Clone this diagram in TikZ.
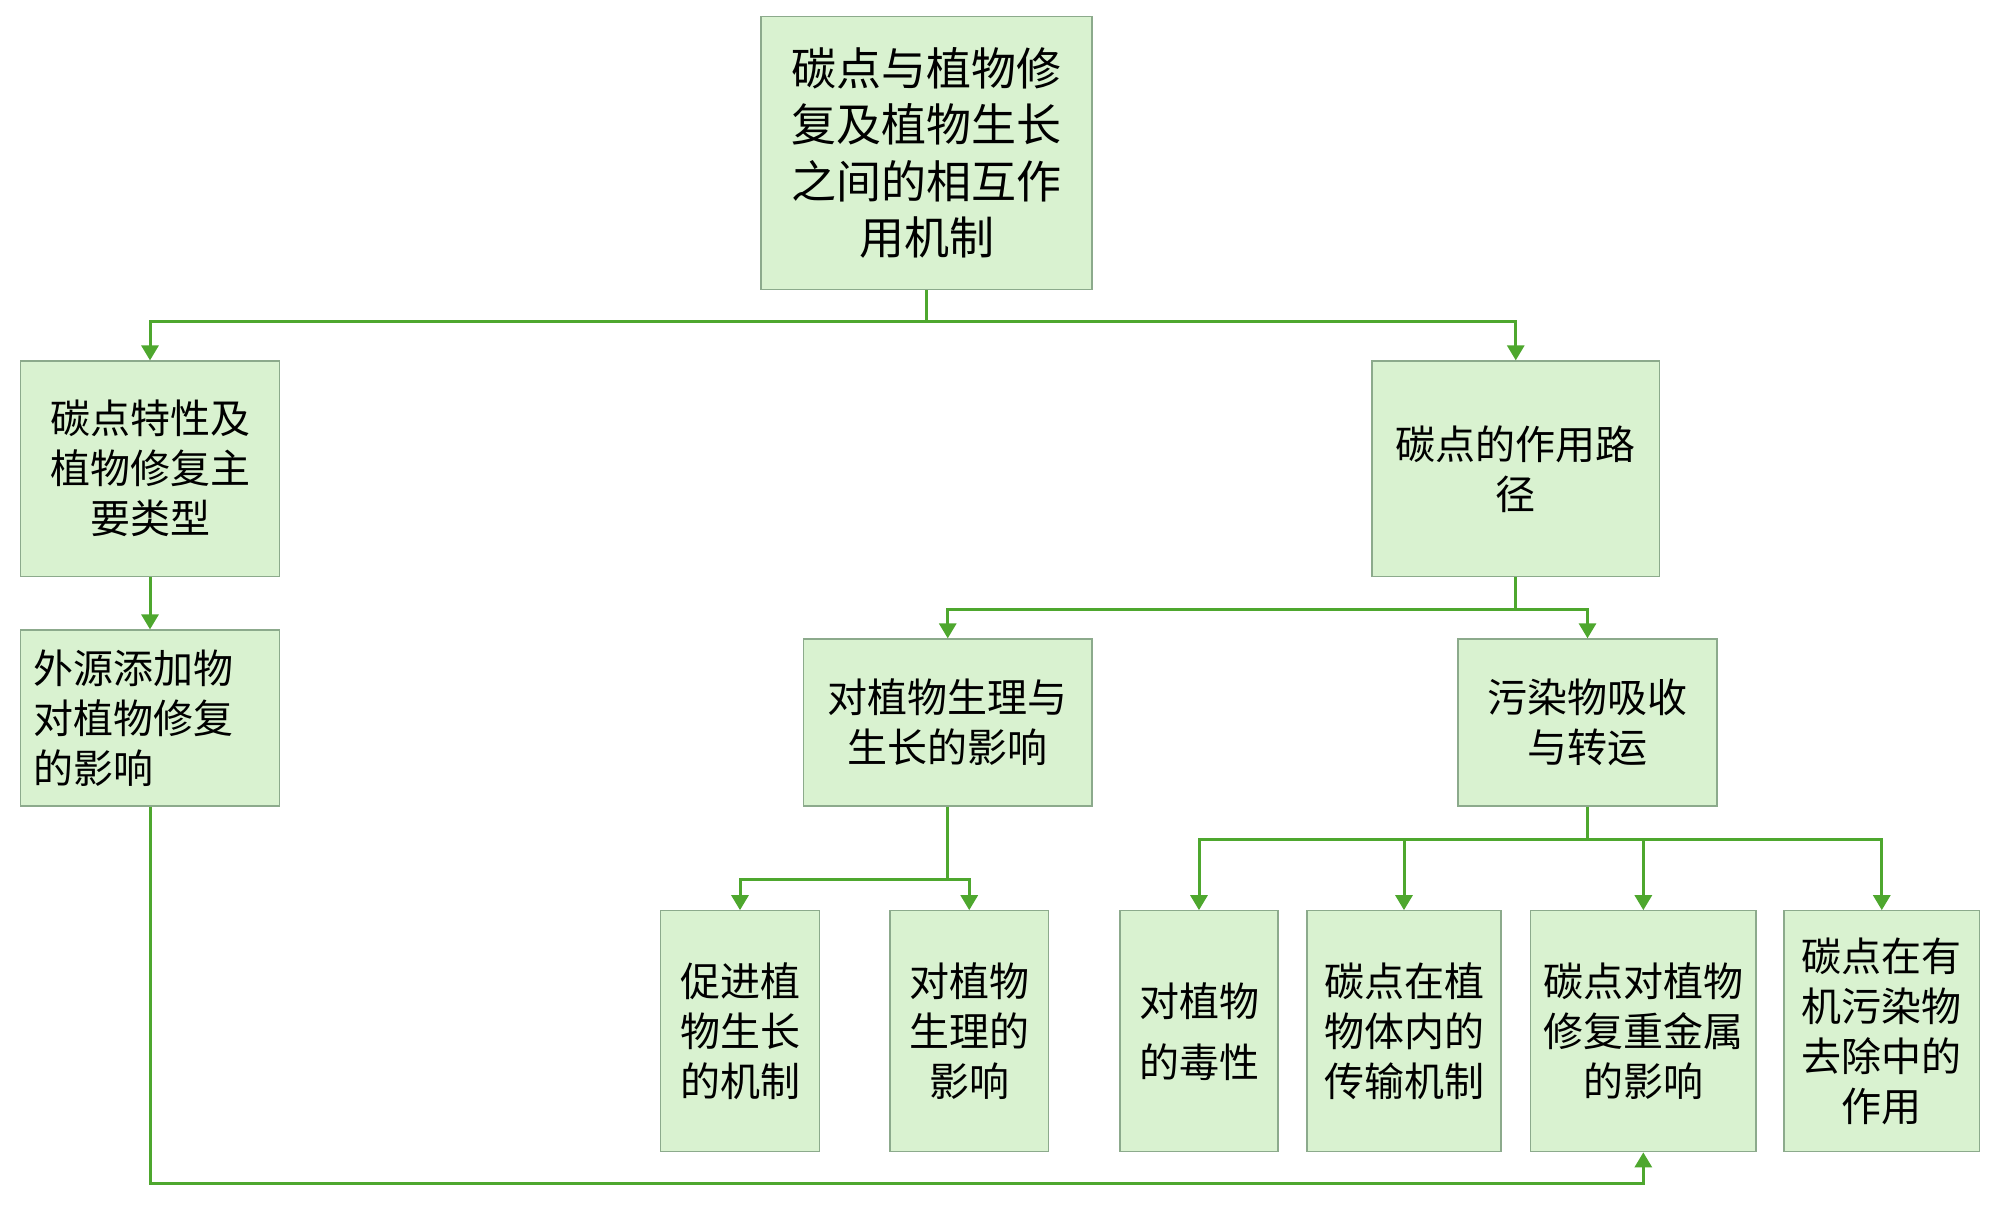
\documentclass[tikz,border=0pt]{standalone}
\usepackage{fontspec}
\setmainfont{Noto Sans CJK SC}
\usetikzlibrary{arrows.meta}
\definecolor{boxfill}{RGB}{217,242,208}
\definecolor{boxline}{RGB}{140,170,140}
\definecolor{linkgreen}{RGB}{78,167,46}
\tikzset{
  box/.style={draw=boxline, fill=boxfill, line width=0.6pt, inner sep=0pt, align=center,
    font=\fontsize{20pt}{25pt}\selectfont, text=black},
  arr/.style={draw=linkgreen, line width=1.5pt, -{Triangle[length=7.5pt,width=8.5pt]}},
  lnk/.style={draw=linkgreen, line width=1.5pt},
}
\begin{document}
\begin{tikzpicture}[x=0.5pt,y=-0.5pt]
\useasboundingbox (0,0) rectangle (2000,1205);
% boxes
\node[box, minimum width=165.5pt, minimum height=136.5pt, font=\fontsize{22.5pt}{28.25pt}\selectfont] (top) at (926.5,153) {碳点与植物修\\复及植物生长\\之间的相互作\\用机制};
\node[box, minimum width=129.5pt, minimum height=107.75pt] (A) at (150,468.75) {碳点特性及\\植物修复主\\要类型};
\node[box, minimum width=143.75pt, minimum height=107.75pt] (B) at (1515.75,468.75) {碳点的作用路\\径};
\node[box, minimum width=129.5pt, minimum height=88pt, align=left, text width=116.5pt, inner xsep=6.5pt] (A2) at (150,718) {外源添加物\\对植物修复\\的影响};
\node[box, minimum width=144.25pt, minimum height=83.5pt] (C) at (947.75,722.5) {对植物生理与\\生长的影响};
\node[box, minimum width=129.5pt, minimum height=83.5pt] (D) at (1587.5,722.5) {污染物吸收\\与转运};
\node[box, minimum width=79.15pt, minimum height=120.5pt] (E1) at (740,1031.25) {促进植\\物生长\\的机制};
\node[box, minimum width=79.25pt, minimum height=120.5pt] (E2) at (969.25,1031.25) {对植物\\生理的\\影响};
\node[box, minimum width=79pt, minimum height=120.5pt, font=\fontsize{20pt}{30.5pt}\selectfont] (F1) at (1199,1031.25) {对植物\\的毒性};
\node[box, minimum width=97pt, minimum height=120.5pt] (F2) at (1404,1031.25) {碳点在植\\物体内的\\传输机制};
\node[box, minimum width=112.7pt, minimum height=120.5pt] (F3) at (1643.3,1031.25) {碳点对植物\\修复重金属\\的影响};
\node[box, minimum width=97.75pt, minimum height=120.5pt] (F4) at (1881.75,1031.25) {碳点在有\\机污染物\\去除中的\\作用};
% junctions
\coordinate (j1) at (926.5,321.4);
\coordinate (j2) at (1515.75,609.7);
\coordinate (j3) at (947.75,879);
\coordinate (j4) at (1587.5,839);
\coordinate (l1) at (150,1183.6);
% connectors
\draw[lnk] (top.south) -- (j1);
\draw[arr] (j1) -| (A.north);
\draw[arr] (j1) -| (B.north);
\draw[arr] (A.south) -- (A2.north);
\draw[lnk] (B.south) -- (j2);
\draw[arr] (j2) -| (C.north);
\draw[arr] (j2) -| (D.north);
\draw[lnk] (C.south) -- (j3);
\draw[arr] (j3) -| (E1.north);
\draw[arr] (j3) -| (E2.north);
\draw[lnk] (D.south) -- (j4);
\draw[arr] (j4) -| (F1.north);
\draw[arr] (j4) -| (F2.north);
\draw[arr] (j4) -| (F3.north);
\draw[arr] (j4) -| (F4.north);
\draw[arr] (A2.south) -- (l1) -| (F3.south);
\end{tikzpicture}
\end{document}
